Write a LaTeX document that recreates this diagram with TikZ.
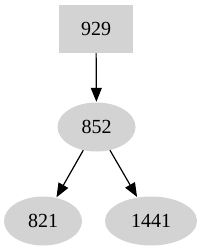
\documentclass[tikz,border=0pt]{standalone}
\usepackage{fontspec}
\setmainfont{Liberation Serif}
\usetikzlibrary{arrows.meta,shapes.geometric}
\definecolor{nodegray}{HTML}{D3D3D3}
\tikzset{
  boxnode/.style={rectangle, fill=nodegray, minimum width=74pt, minimum height=48pt, inner sep=0pt, font=\fontsize{20}{22}\selectfont},
  ellnode/.style={ellipse, fill=nodegray, minimum width=#1, minimum height=49pt, inner sep=0pt, font=\fontsize{20}{22}\selectfont},
  edge/.style={line width=1.2pt, -{Triangle[length=14pt,width=11pt]}, shorten >=0.5pt}
}
\begin{document}
\begin{tikzpicture}[x=1pt,y=-1pt]
\useasboundingbox (0,0) rectangle (203,251);
\node[boxnode] (n929) at (96,29) {929};
\node[ellnode=78pt] (n852) at (96.5,127) {852};
\node[ellnode=78pt] (n821) at (43,221) {821};
\node[ellnode=92pt] (n1441) at (151,221) {1441};
\draw[edge] (n929) -- (n852);
\draw[edge] (n852) -- (n821);
\draw[edge] (n852) -- (n1441);
\end{tikzpicture}
\end{document}
